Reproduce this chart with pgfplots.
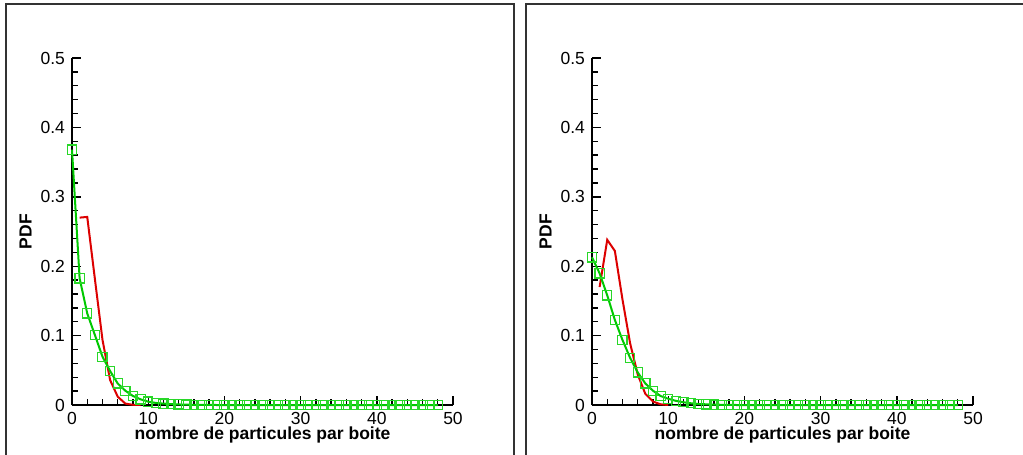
\documentclass[border=0pt]{standalone}
\usepackage{pgfplots}
\usepackage{pgfplotstable}
\pgfplotsset{compat=1.18}
\usepackage{fontspec}
\setmainfont{Liberation Sans}
\definecolor{cred}{RGB}{220,0,0}
\definecolor{cgreen}{RGB}{0,200,0}
\definecolor{mgreen}{RGB}{40,215,40}
\definecolor{frame}{RGB}{50,50,50}

\pgfplotstableread{
x y
0 0.368
1 0.1825
2 0.132
3 0.101
4 0.0696
5 0.049
6 0.031
7 0.0206
8 0.013
9 0.0082
10 0.0048
11 0.003
12 0.002
13 0.0013
14 0.0008
15 0.0005
16 0.0003
17 0.0002
18 0.0001
19 0
20 0
21 0
22 0
23 0
24 0
25 0
26 0
27 0
28 0
29 0
30 0
31 0
32 0
33 0
34 0
35 0
36 0
37 0
38 0
39 0
40 0
41 0
42 0
43 0
44 0
45 0
46 0
47 0
48 0
}\greenA

\pgfplotstableread{
x y
1 0.270
2 0.271
3 0.182
4 0.094
5 0.036
6 0.012
7 0.002
8 0.0003
9 0
}\redA

\pgfplotstableread{
x y
0 0.2128
1 0.1897
2 0.158
3 0.1225
4 0.0937
5 0.068
6 0.047
7 0.031
8 0.0206
9 0.013
10 0.009
11 0.006
12 0.004
13 0.0025
14 0.0015
15 0.001
16 0.0006
17 0.0003
18 0.0001
19 0
20 0
21 0
22 0
23 0
24 0
25 0
26 0
27 0
28 0
29 0
30 0
31 0
32 0
33 0
34 0
35 0
36 0
37 0
38 0
39 0
40 0
41 0
42 0
43 0
44 0
45 0
46 0
47 0
48 0
}\greenB

\pgfplotstableread{
x y
1 0.170
2 0.238
3 0.222
4 0.152
5 0.089
6 0.044
7 0.016
8 0.005
9 0.001
10 0
}\redB

\pgfplotsset{
  panel/.style={
    scale only axis, width=190.5pt, height=173.5pt,
    anchor=south west,
    xmin=0, xmax=50, ymin=0, ymax=0.5,
    axis lines*=left,
    axis line style={line width=1pt, black},
    xtick={0,10,20,30,40,50},
    ytick={0,0.1,0.2,0.3,0.4,0.5},
    minor x tick num=4, minor y tick num=4,
    tick align=inside,
    major tick length=4.5pt, minor tick length=3pt,
    every tick/.style={black, line width=0.7pt},
    /pgf/number format/assume math mode=true,
    ticklabel style={font=\fontsize{8.75}{10}\selectfont},
    xlabel={nombre de particules par boite},
    ylabel={PDF},
    xlabel style={at={(axis description cs:0.5,0)}, anchor=north, inner sep=0pt, yshift=-10.6pt, font=\fontsize{8.75}{10}\selectfont\bfseries},
    ylabel style={at={(axis description cs:-0.122,0.5)}, anchor=center, inner sep=0pt, font=\fontsize{8.75}{10}\selectfont\bfseries},
    clip=false,
  },
  redline/.style={draw=cred, line width=1pt, no markers},
  greenline/.style={draw=cgreen, line width=1pt, mark=square, mark size=2.3pt, mark options={draw=mgreen, line width=0.6pt, solid}},
}

\begin{document}
\begin{tikzpicture}
\useasboundingbox (0,0) rectangle (511.5pt,-227.5pt);
\draw[frame, line width=0.8pt] (3.1pt,-228pt) -- (3.1pt,-2.1pt) -- (257pt,-2.1pt) -- (257pt,-228pt);
\draw[frame, line width=0.8pt] (263.1pt,-228pt) -- (263.1pt,-2.1pt) -- (512pt,-2.1pt);

\begin{axis}[panel, at={(36pt,-202.5pt)}]
\addplot[redline] table[x=x,y=y] {\redA};
\addplot[greenline] table[x=x,y=y] {\greenA};
\end{axis}

\begin{axis}[panel, at={(296pt,-202.5pt)}]
\addplot[redline] table[x=x,y=y] {\redB};
\addplot[greenline] table[x=x,y=y] {\greenB};
\end{axis}
\end{tikzpicture}
\end{document}
